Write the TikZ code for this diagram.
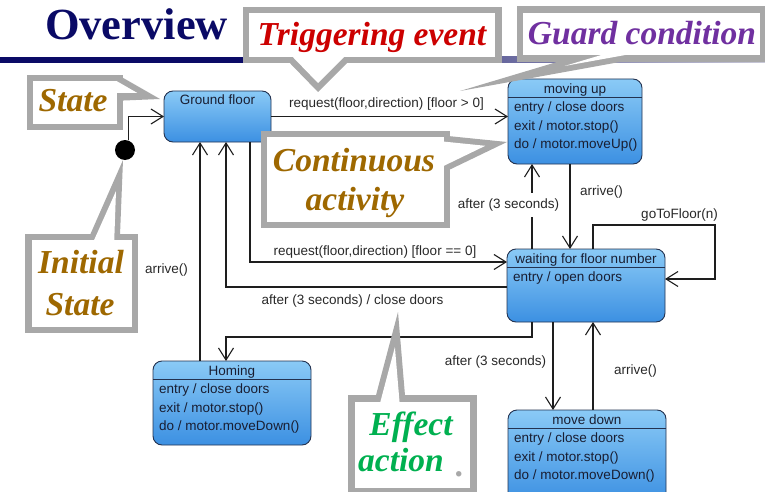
\documentclass[tikz,border=0pt]{standalone}
\usepackage{fontspec}
\setmainfont{Liberation Serif}
\setsansfont{Liberation Sans}
\usetikzlibrary{arrows.meta,calc}

\definecolor{titlenavy}{RGB}{10,10,102}
\definecolor{barfade}{RGB}{200,200,215}
\definecolor{calloutgray}{RGB}{168,168,168}
\definecolor{trigred}{RGB}{204,0,0}
\definecolor{guardpurple}{RGB}{112,48,160}
\definecolor{notebrown}{RGB}{158,104,0}
\definecolor{effectgreen}{RGB}{0,176,80}
\definecolor{statetop}{RGB}{138,202,246}
\definecolor{statebot}{RGB}{60,144,226}
\definecolor{stateedge}{RGB}{35,50,80}
\definecolor{statetext}{RGB}{25,30,50}
\definecolor{lineclr}{RGB}{30,30,30}
\definecolor{lblclr}{RGB}{40,40,40}

\begin{document}
\begin{tikzpicture}[x=1pt,y=-1pt,
  umlstate/.style={draw=stateedge, line width=0.9pt, rounded corners=9pt,
    top color=statetop, bottom color=statebot, inner sep=0pt, outer sep=0pt},
  stitle/.style={font=\sffamily\fontsize{13.5}{15}\selectfont, text=statetext,
    inner sep=0pt, anchor=base},
  srow/.style={font=\sffamily\fontsize{13.5}{15}\selectfont, text=statetext,
    inner sep=0pt, anchor=base west},
  sdivider/.style={draw=stateedge, line width=0.9pt},
  lbl/.style={font=\sffamily\fontsize{13.5}{15}\selectfont, text=lblclr, inner sep=1pt},
  arr/.style={draw=lineclr, line width=1.1pt,
    -{Straight Barb[length=12pt,width=15pt,line width=1.1pt]}},
  plain/.style={draw=lineclr, line width=1.1pt},
  cotext/.style={font=\bfseries\itshape\fontsize{33.5}{38}\selectfont,
    inner sep=0pt, anchor=base},
  coborder/.style={fill=calloutgray},
  coinside/.style={fill=white}]

\useasboundingbox (0,0) rectangle (765,492);
\clip (0,0) rectangle (765,492);

% ---------- heading ----------
\node[font=\bfseries\fontsize{44.5}{50}\selectfont, text=titlenavy,
      inner sep=0pt, anchor=base] (heading) at (136.5,40) {Overview};
\fill[titlenavy] (0,57) rectangle (250,63);
\shade[left color=titlenavy, right color=barfade] (250,57) rectangle (765,63);

% ---------- states ----------
\node[umlstate, minimum width=107pt, minimum height=51pt] (gf) at (217.5,116.5) {};
\node[stitle] (gf-t) at ([yshift=-13.5pt]gf.north) {Ground floor};

\node[umlstate, minimum width=134pt, minimum height=85pt] (mu) at (575,121.5) {};
\node[stitle] (mu-t) at ([yshift=-14.5pt]mu.north) {moving up};
\draw[sdivider] ([yshift=-18.5pt]mu.north west) -- ([yshift=-18.5pt]mu.north east);
\node[srow] (mu-r1) at ([xshift=6pt,yshift=-32.5pt]mu.north west) {entry / close doors};
\node[srow] (mu-r2) at ([xshift=6pt,yshift=-51pt]mu.north west) {exit / motor.stop()};
\node[srow] (mu-r3) at ([xshift=6pt,yshift=-69.5pt]mu.north west) {do / motor.moveUp()};

\node[umlstate, minimum width=158pt, minimum height=73pt] (wt) at (586,285.5) {};
\node[stitle] (wt-t) at ([yshift=-14.5pt]wt.north) {waiting for floor number};
\draw[sdivider] ([yshift=-18.5pt]wt.north west) -- ([yshift=-18.5pt]wt.north east);
\node[srow] (wt-r1) at ([xshift=6pt,yshift=-32.5pt]wt.north west) {entry / open doors};

\node[umlstate, minimum width=158pt, minimum height=92pt] (md) at (587,456) {};
\node[stitle] (md-t) at ([yshift=-14.5pt]md.north) {move down};
\draw[sdivider] ([yshift=-18.5pt]md.north west) -- ([yshift=-18.5pt]md.north east);
\node[srow] (md-r1) at ([xshift=6pt,yshift=-32.5pt]md.north west) {entry / close doors};
\node[srow] (md-r2) at ([xshift=6pt,yshift=-51pt]md.north west) {exit / motor.stop()};
\node[srow] (md-r3) at ([xshift=6pt,yshift=-69.5pt]md.north west) {do / motor.moveDown()};

\node[umlstate, minimum width=158pt, minimum height=84pt] (hm) at (232,403) {};
\node[stitle] (hm-t) at ([yshift=-14.5pt]hm.north) {Homing};
\draw[sdivider] ([yshift=-18.5pt]hm.north west) -- ([yshift=-18.5pt]hm.north east);
\node[srow] (hm-r1) at ([xshift=6pt,yshift=-32.5pt]hm.north west) {entry / close doors};
\node[srow] (hm-r2) at ([xshift=6pt,yshift=-51pt]hm.north west) {exit / motor.stop()};
\node[srow] (hm-r3) at ([xshift=6pt,yshift=-69.5pt]hm.north west) {do / motor.moveDown()};

% initial pseudo-state
\node[circle, fill=black, minimum size=20pt, inner sep=0pt] (dot) at (125,150) {};

% ---------- transitions ----------
\draw[arr] (dot.70) |- (gf.west);

\draw[arr] (gf.east) -- (mu.west |- gf.east);
\node[lbl] (l-up) at (386.5,104) {request(floor,direction) [floor > 0]};

\draw[arr] ([xshift=32.5pt]gf.south) |- ([yshift=-13pt]wt.north west);
\node[lbl] (l-zero) at (375,252) {request(floor,direction) [floor == 0]};

\draw[arr] ([yshift=-38pt]wt.north west) -| ([xshift=8.5pt]gf.south);
\node[lbl] (l-close) at (352.5,301) {after (3 seconds) / close doors};

\coordinate (homebend) at ($(wt.south west)+(25,15)$);
\draw[arr] ([xshift=25pt]wt.south west) -- (homebend) -| ([xshift=-6pt]hm.north);

\draw[arr] ([xshift=-32pt]hm.north) -- ([xshift=-17.5pt]gf.south);
\node[lbl] (l-home) at (166.5,270) {arrive()};

\draw[arr] ([xshift=46pt]wt.south west) -- ([xshift=45pt]md.north west);
\node[lbl] (l-down) at (495.5,362) {after (3 seconds)};

\draw[arr] ([xshift=85pt]md.north west) -- ([xshift=86pt]wt.south west);
\node[lbl] (l-mdarr) at (635.5,371) {arrive()};

\draw[arr] ([xshift=25pt]wt.north west) -- ([xshift=24pt]mu.south west);
\node[lbl, fill=white, inner ysep=6pt] (l-upwait) at (508.5,205) {after (3 seconds)};

\draw[arr] ([xshift=62pt]mu.south west) -- ([xshift=63pt]wt.north west);
\node[lbl] (l-muarr) at (601.5,192) {arrive()};

\coordinate (loopc) at ($(wt.north east)+(50,-24)$);
\draw[arr] ([xshift=86pt]wt.north west) |- (loopc) |- ([yshift=6.5pt]wt.east);
\node[lbl] (l-goto) at (679.5,215) {goToFloor(n)};

% ---------- callouts ----------
% Triggering event
\fill[coborder] (243,7) rectangle (502,63);
\fill[coborder] (282,55) -- (318,92) -- (355,55) -- cycle;
\fill[coinside] (249,13) rectangle (495,57);
\fill[coinside] (286,50) -- (318,83) -- (351,50) -- cycle;
\node[cotext, text=trigred] (c-trig) at (372,46) {Triggering event};

% Guard condition
\fill[coborder] (517,6) rectangle (767,62);
\fill[coborder] (597,50) -- (460,91) -- (686,50) -- cycle;
\fill[coinside] (523,13) rectangle (760,55);
\fill[coinside] (618,50) -- (564.5,66) -- (653,50) -- cycle;
\node[cotext, text=guardpurple] (c-guard) at (642,45) {Guard condition};

% State
\fill[coborder] (27,75) rectangle (123,130);
\fill[coborder] (118,75) -- (160,99) -- (112,101) -- cycle;
\fill[coinside] (33,81) rectangle (117,124);
\fill[coinside] (117,81.3) -- (137.4,93) -- (112,93) -- cycle;
\node[cotext, text=notebrown] (c-state) at (73,112) {State};

% Initial State
\fill[coborder] (25,234) rectangle (138,333);
\fill[coborder] (85.6,245) -- (123,160) -- (119.6,245) -- cycle;
\fill[coinside] (32,240) rectangle (132,327);
\fill[coinside] (91,247) -- (116,191) -- (114,247) -- cycle;
\node[cotext, text=notebrown] (c-init1) at (81,273) {Initial};
\node[cotext, text=notebrown] (c-init2) at (80,315) {State};

% Continuous activity
\fill[coborder] (261,131) rectangle (450,228);
\fill[coborder] (440,135.2) -- (507,142) -- (440,174.3) -- cycle;
\fill[coinside] (267,137) rectangle (444,222);
\fill[coinside] (440,141.2) -- (485.3,145.8) -- (440,167.7) -- cycle;
\node[cotext, text=notebrown] (c-cont1) at (354,171) {Continuous};
\node[cotext, text=notebrown] (c-cont2) at (355,210) {activity};

% Effect action
\fill[coborder] (348,395) rectangle (477,494);
\fill[coborder] (373.4,405) -- (398,312) -- (405.8,405) -- cycle;
\fill[coinside] (355,402) rectangle (470,488);
\fill[coinside] (378.2,410) -- (394.9,347) -- (400.2,410) -- cycle;
\node[cotext, text=effectgreen] (c-eff1) at (411,435) {Effect};
\node[cotext, text=effectgreen] (c-eff2) at (401,471) {action};
\node[cotext, text=calloutgray] (c-dot) at (460,476) {.};

\end{tikzpicture}
\end{document}
